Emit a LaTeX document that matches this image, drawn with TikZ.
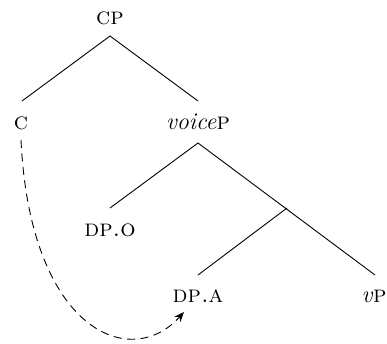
\documentclass[tikz,border=0pt]{standalone}
\usetikzlibrary{arrows.meta}
\begin{document}
\begin{tikzpicture}[x=1pt,y=-1pt,
  lbl/.style={inner sep=0pt,font=\fontsize{24}{28}\selectfont},
  branch/.style={line width=0.9pt},
  move/.style={line width=0.9pt,dash pattern=on 8pt off 5.5pt,-{Stealth[length=10pt,width=8pt]}}]
\useasboundingbox (0,0) rectangle (387,343);
% labels
\node[lbl] (cp) at (110,18) {\textsc{cp}};
\node[lbl] (c) at (21,123) {\textsc{c}};
\node[lbl] (voicep) at (198,122) {\textit{voice}\textsc{p}};
\node[lbl] (dpo) at (110,230) {\textsc{dp.o}};
\node[lbl] (dpa) at (198,296) {\textsc{dp.a}};
\node[lbl] (vp) at (374,296) {\textit{v}\textsc{p}};
% branch points
\coordinate (cptop) at (110,36);
\coordinate (ctop) at (22,101);
\coordinate (vptopin) at (198,101);
\coordinate (vpbot) at (198,143);
\coordinate (dpotop) at (110,208);
\coordinate (bar) at (287,208);
\coordinate (dpatop) at (198,275);
\coordinate (vsmalltop) at (375,275);
\coordinate (cbot) at (21,140);
\coordinate (tip) at (184,312);
% tree
\draw[branch] (ctop) -- (cptop) -- (vptopin);
\draw[branch] (dpotop) -- (vpbot) -- (vsmalltop);
\draw[branch] (bar) -- (dpatop);
% movement
\draw[move] (cbot) .. controls (30,330) and (130,372) .. (tip);
\end{tikzpicture}
\end{document}
